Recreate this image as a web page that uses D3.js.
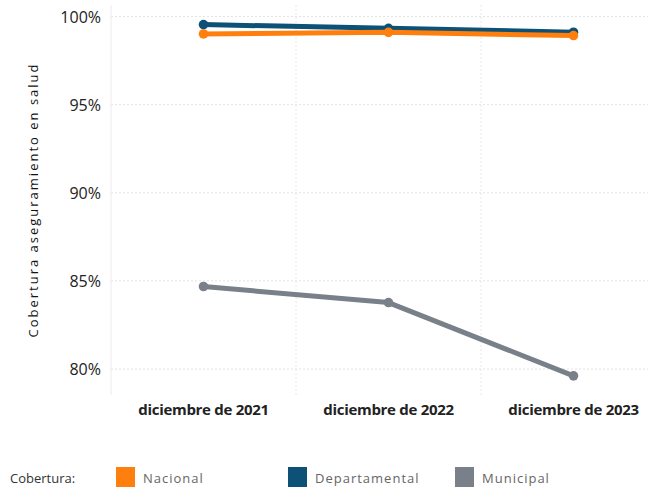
<!DOCTYPE html>
<html><head><meta charset="utf-8">
<script src="https://cdn.jsdelivr.net/npm/d3@7"></script>
<style>body{margin:0;background:#fff}svg{display:block}text{font-family:"Open Sans","Noto Sans",sans-serif}</style>
</head><body><svg id="c" width="648" height="489"></svg>
<script>
const categories = ["diciembre de 2021","diciembre de 2022","diciembre de 2023"];
const nacional = [99.01, 99.10, 98.92];
const departamental = [99.54, 99.33, 99.11];
const municipal = [84.68, 83.77, 79.61];
const yTicks = [80, 85, 90, 95, 100];
const seriesNames = ["Nacional","Departamental","Municipal"];
const colors = ["#ff7f0e","#0d5177","#7a808a"];

const svg = d3.select("#c");
const x = d3.scaleBand().domain(categories).range([111, 666]);
const y = d3.scaleLinear().domain([80, 100]).range([369, 16.5]);
const plotTop = 5, plotBottom = 395;

const g = svg.append("g");
g.selectAll(".hg").data(yTicks).join("line")
  .attr("x1", 111).attr("x2", 648).attr("y1", d => y(d)).attr("y2", d => y(d))
  .attr("stroke", "#e3e3e3").attr("stroke-dasharray", "2,2");
g.selectAll(".vg").data(categories.slice(1)).join("line")
  .attr("x1", d => x(d)).attr("x2", d => x(d)).attr("y1", plotTop).attr("y2", plotBottom)
  .attr("stroke", "#e8e8e8").attr("stroke-dasharray", "2,2");
g.append("line").attr("x1", 111).attr("x2", 111).attr("y1", plotTop).attr("y2", plotBottom).attr("stroke", "#ececec");

const yAxis = d3.axisLeft(y).tickValues(yTicks).tickFormat(d => d + "%").tickSize(0).tickPadding(0);
const ya = svg.append("g").attr("transform", "translate(101,0)").call(yAxis);
ya.select(".domain").remove();
ya.selectAll("text").attr("font-size", 16).attr("fill", "#222").attr("dy", "0.35em")
  .attr("font-family", "'Open Sans',sans-serif");

const xAxis = d3.axisBottom(x).tickSize(0).tickPadding(0);
const xa = svg.append("g").attr("transform", "translate(0,404)").call(xAxis);
xa.select(".domain").remove();
xa.selectAll("text").attr("font-size", 15).attr("font-weight", "bold").attr("fill", "#222").attr("dy", "0.71em")
  .attr("font-family", "'Open Sans',sans-serif").attr("letter-spacing", "-0.3px");

svg.append("text").attr("transform", "translate(38,200) rotate(-90)")
  .attr("text-anchor", "middle").attr("font-size", 13).attr("fill", "#111")
  .attr("letter-spacing", "2px")
  .text("Cobertura aseguramiento en salud");

const data = [nacional, departamental, municipal];
const cx = c => x(c) + x.bandwidth() / 2;
const line = d3.line().x((d, i) => cx(categories[i])).y(d => y(d));
[2, 1, 0].forEach(si => {
  const s = svg.append("g");
  s.append("path").datum(data[si]).attr("d", line).attr("fill", "none")
    .attr("stroke", colors[si]).attr("stroke-width", 5).attr("stroke-linejoin", "round");
  s.selectAll("circle").data(data[si]).join("circle")
    .attr("cx", (d, i) => cx(categories[i])).attr("cy", d => y(d)).attr("r", 4.8)
    .attr("fill", colors[si]);
});

const lg = svg.append("g");
lg.append("text").attr("x", 10).attr("y", 483).attr("font-size", 13).attr("fill", "#333").text("Cobertura:");
const legX = [116, 288, 455];
seriesNames.forEach((n, i) => {
  lg.append("rect").attr("x", legX[i]).attr("y", 467).attr("width", 19).attr("height", 20).attr("fill", colors[i]);
  lg.append("text").attr("x", legX[i] + 27).attr("y", 483).attr("font-size", 13).attr("fill", "#666")
    .attr("letter-spacing", "1px").text(n);
});
</script></body></html>
